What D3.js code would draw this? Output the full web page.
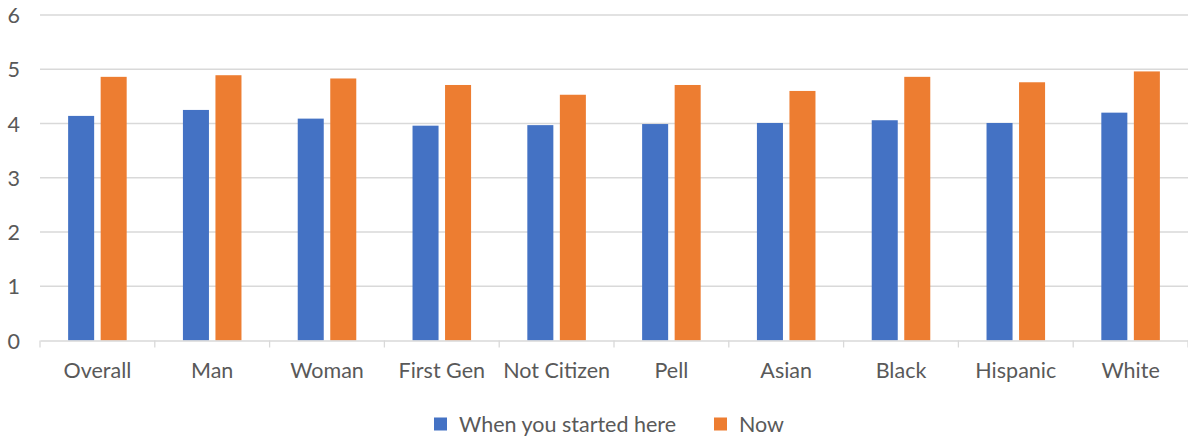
<!DOCTYPE html>
<html>
<head>
<meta charset="utf-8">
<script src="https://cdn.jsdelivr.net/npm/d3@7"></script>
<style>
  html, body { margin: 0; padding: 0; background: #fff; }
  svg { display: block; }
  text { font-family: Lato, "Open Sans", "Liberation Sans", sans-serif; fill: #595959; }
</style>
</head>
<body>
<svg id="chart" width="1188" height="440"></svg>
<script>
// Survey groups along the x axis
const categories = ["Overall", "Man", "Woman", "First Gen", "Not Citizen", "Pell", "Asian", "Black", "Hispanic", "White"];
// Average rating per group
const startedValues = [4.14, 4.25, 4.09, 3.96, 3.97, 3.99, 4.01, 4.06, 4.01, 4.20];
const nowValues     = [4.86, 4.89, 4.83, 4.71, 4.53, 4.71, 4.60, 4.86, 4.76, 4.96];
const seriesNames = ["When you started here", "Now"];
const seriesColors = ["#4472c4", "#ed7d31"];
const yTicks = [0, 1, 2, 3, 4, 5, 6];

const svg = d3.select("#chart");
const margin = { left: 40, right: 0, top: 15, bottom: 99 };
const W = 1188, H = 440;
const FONT = "21.5px";

const x = d3.scaleBand().domain(categories).range([margin.left, W - margin.right]).paddingInner(0).paddingOuter(0);
// Pair of bars sits centred in each category slot
const groupW = x.bandwidth() * 0.51;
const groupX0 = (x.bandwidth() - groupW) / 2;
const inner = d3.scaleBand().domain(seriesNames).range([groupX0, groupX0 + groupW]).paddingInner(0.2).paddingOuter(0);
const y = d3.scaleLinear().domain([0, 6]).range([H - margin.bottom - 0.5, margin.top]);

// Horizontal gridlines
svg.append("g")
  .selectAll("line")
  .data(yTicks.filter(t => t > 0))
  .join("line")
  .attr("x1", margin.left).attr("x2", W)
  .attr("y1", d => y(d)).attr("y2", d => y(d))
  .attr("stroke", "#d9d9d9").attr("stroke-width", 1.3);

// Y axis labels
svg.append("g")
  .selectAll("text")
  .data(yTicks)
  .join("text")
  .attr("x", 20).attr("y", d => y(d))
  .attr("text-anchor", "end").attr("dominant-baseline", "central")
  .style("font-size", FONT)
  .text(d => d);

// Bars
const rows = categories.map((c, i) => ({ c, vals: [startedValues[i], nowValues[i]] }));
const groups = svg.append("g").selectAll("g").data(rows).join("g")
  .attr("transform", d => `translate(${x(d.c)},0)`);
groups.selectAll("rect")
  .data(d => d.vals.map((v, j) => ({ v, s: seriesNames[j], color: seriesColors[j] })))
  .join("rect")
  .attr("x", d => inner(d.s))
  .attr("width", inner.bandwidth())
  .attr("y", d => y(d.v))
  .attr("height", d => y(0) - y(d.v))
  .attr("fill", d => d.color);

// X axis with tick marks between categories
const xAxis = d3.axisBottom(x).tickSize(0).tickPadding(22);
const gx = svg.append("g").attr("transform", `translate(0,${y(0)})`).call(xAxis);
gx.select(".domain").attr("stroke", "#d9d9d9").attr("stroke-width", 1.3);
gx.selectAll("text")
  .style("font-size", FONT)
  .style("font-family", "Lato, 'Open Sans', 'Liberation Sans', sans-serif")
  .attr("fill", "#595959");
svg.append("g").selectAll("line")
  .data(categories.concat(["end"]))
  .join("line")
  .attr("x1", (d, i) => margin.left + i * x.step())
  .attr("x2", (d, i) => margin.left + i * x.step())
  .attr("y1", y(0)).attr("y2", y(0) + 7)
  .attr("stroke", "#d9d9d9").attr("stroke-width", 1.3);

// Legend
const legendX = [434, 714];
const legend = svg.append("g").selectAll("g").data(seriesNames).join("g")
  .attr("transform", (d, i) => `translate(${legendX[i]},424)`);
legend.append("rect")
  .attr("x", 0).attr("y", -6.5).attr("width", 13).attr("height", 13)
  .attr("fill", (d, i) => seriesColors[i]);
legend.append("text")
  .attr("x", 25).attr("y", 0)
  .attr("dominant-baseline", "central")
  .style("font-size", FONT)
  .text(d => d);
</script>
</body>
</html>
